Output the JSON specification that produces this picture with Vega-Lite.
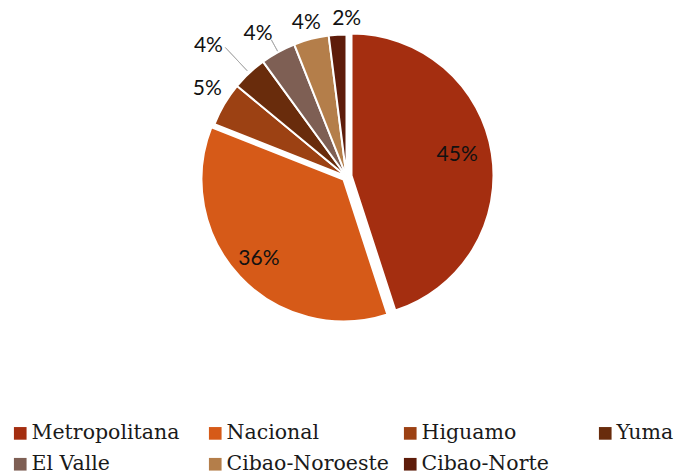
{
  "$schema": "https://vega.github.io/schema/vega-lite/v6.json",
  "width": 669,
  "height": 353,
  "padding": {"left": 12, "top": 0, "right": 0, "bottom": 121},
  "autosize": {"type": "none"},
  "background": "white",
  "config": {"view": {"stroke": null}},
  "data": {"values": [
    {"region": "Metropolitana", "pct": 45, "label": "45%"},
    {"region": "Nacional", "pct": 36, "label": "36%"},
    {"region": "Higuamo", "pct": 5, "label": "5%"},
    {"region": "Yuma", "pct": 4, "label": "4%"},
    {"region": "El Valle", "pct": 4, "label": "4%"},
    {"region": "Cibao-Noroeste", "pct": 4, "label": "4%"},
    {"region": "Cibao-Norte", "pct": 2, "label": "2%"}
  ]},
  "transform": [{"window": [{"op": "row_number", "as": "orden"}]}],
  "encoding": {
    "theta": {"field": "pct", "type": "quantitative", "stack": true},
    "order": {"field": "orden", "type": "quantitative"}
  },
  "layer": [
    {
      "mark": {"type": "arc", "outerRadius": 142, "stroke": "white", "strokeWidth": 2},
      "encoding": {
        "color": {
          "field": "region", "type": "nominal",
          "scale": {
            "domain": ["Metropolitana", "Nacional", "Higuamo", "Yuma", "El Valle", "Cibao-Noroeste", "Cibao-Norte"],
            "range": ["#A42E10", "#D65A18", "#9C4113", "#692C0C", "#7E5F54", "#B47E4A", "#5E1C0A"]
          },
          "legend": {
            "orient": "none", "legendX": -2, "legendY": 423, "columns": 4, "direction": "horizontal",
            "title": null, "symbolType": "square", "symbolSize": 160, "symbolStrokeWidth": 0,
            "labelFont": "DejaVu Serif", "labelFontSize": 20.5, "labelColor": "#1a1a1a",
            "gridAlign": "all", "columnPadding": 11, "rowPadding": 10, "labelOffset": 1, "labelLimit": 300
          }
        },
        "opacity": {"condition": {"test": "datum.region !== 'Metropolitana' && datum.region !== 'Nacional'", "value": 1}, "value": 0}
      }
    },
    {
      "mark": {"type": "arc", "outerRadius": 142, "stroke": "white", "strokeWidth": 2, "xOffset": -3, "yOffset": 3},
      "encoding": {
        "color": {"field": "region", "type": "nominal"},
        "opacity": {"condition": {"test": "datum.region === 'Nacional'", "value": 1}, "value": 0}
      }
    },
    {
      "mark": {"type": "arc", "outerRadius": 142, "stroke": "white", "strokeWidth": 2, "xOffset": 5, "yOffset": -1},
      "encoding": {
        "color": {"field": "region", "type": "nominal"},
        "opacity": {"condition": {"test": "datum.region === 'Metropolitana'", "value": 1}, "value": 0}
      }
    },
    {
      "mark": {"type": "arc", "outerRadius": 177, "innerRadius": 145, "padAngle": 1, "filled": false, "stroke": "#A6A6A6", "strokeWidth": 0.8},
      "encoding": {
        "opacity": {"condition": {"test": "datum.region === 'Yuma'", "value": 1}, "value": 0}
      }
    },
    {
      "mark": {"type": "arc", "outerRadius": 156, "innerRadius": 143, "padAngle": 1, "filled": false, "stroke": "#A6A6A6", "strokeWidth": 0.8},
      "encoding": {
        "opacity": {"condition": {"test": "datum.region === 'El Valle'", "value": 1}, "value": 0}
      }
    },
    {
      "mark": {"type": "text", "radius": 107, "xOffset": 5, "yOffset": -1, "dy": -4, "font": "Lato", "fontSize": 21, "color": "#111111"},
      "encoding": {
        "text": {"field": "label"},
        "opacity": {"condition": {"test": "datum.region === 'Metropolitana'", "value": 1}, "value": 0}
      }
    },
    {
      "mark": {"type": "text", "radius": 116, "xOffset": -3, "yOffset": 3, "font": "Lato", "fontSize": 21, "color": "#111111"},
      "encoding": {
        "text": {"field": "label"},
        "opacity": {"condition": {"test": "datum.region === 'Nacional'", "value": 1}, "value": 0}
      }
    },
    {
      "mark": {"type": "text", "radius": 164, "dx": 2, "dy": -4, "font": "Lato", "fontSize": 21, "color": "#111111"},
      "encoding": {
        "text": {"field": "label"},
        "opacity": {"condition": {"test": "datum.region === 'Higuamo'", "value": 1}, "value": 0}
      }
    },
    {
      "mark": {"type": "text", "radius": 190, "dx": -8, "dy": 8, "font": "Lato", "fontSize": 21, "color": "#111111"},
      "encoding": {
        "text": {"field": "label"},
        "opacity": {"condition": {"test": "datum.region === 'Yuma'", "value": 1}, "value": 0}
      }
    },
    {
      "mark": {"type": "text", "radius": 167, "dx": -8, "dy": 4, "font": "Lato", "fontSize": 21, "color": "#111111"},
      "encoding": {
        "text": {"field": "label"},
        "opacity": {"condition": {"test": "datum.region === 'El Valle'", "value": 1}, "value": 0}
      }
    },
    {
      "mark": {"type": "text", "radius": 158, "dx": -1, "font": "Lato", "fontSize": 21, "color": "#111111"},
      "encoding": {
        "text": {"field": "label"},
        "opacity": {"condition": {"test": "datum.region === 'Cibao-Noroeste'", "value": 1}, "value": 0}
      }
    },
    {
      "mark": {"type": "text", "radius": 157, "dx": 10, "dy": -1, "font": "Lato", "fontSize": 21, "color": "#111111"},
      "encoding": {
        "text": {"field": "label"},
        "opacity": {"condition": {"test": "datum.region === 'Cibao-Norte'", "value": 1}, "value": 0}
      }
    }
  ]
}
